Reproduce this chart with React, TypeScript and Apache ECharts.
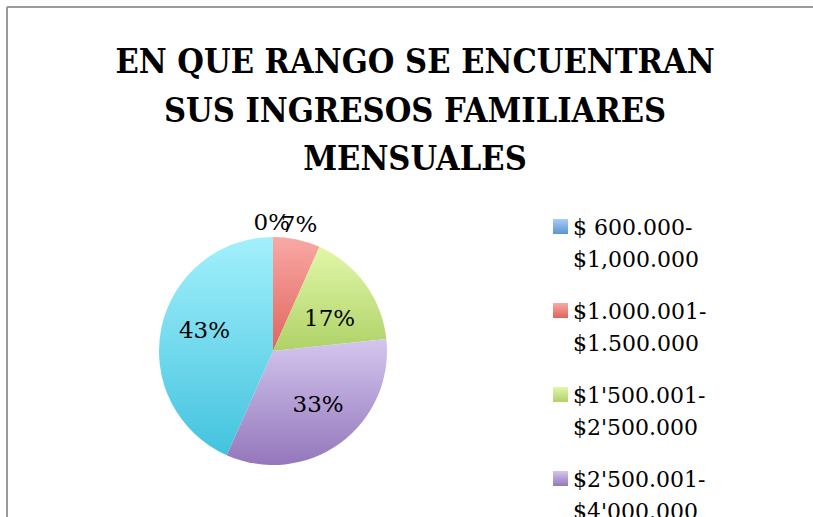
import React, { useEffect, useRef } from 'react';
import * as echarts from 'echarts';

const titleLines = ['EN QUE RANGO SE ENCUENTRAN', 'SUS INGRESOS FAMILIARES', 'MENSUALES'];
const categories = [
  "$ 600.000-\n$1,000.000",
  "$1.000.001-\n$1.500.000",
  "$1'500.001-\n$2'500.000",
  "$2'500.001-\n$4'000.000",
  "Más de\n$4'000.000",
];
const values = [0, 2, 5, 10, 13];
const topColors = ['#A9CDF6', '#F9A9A5', '#E2F7A8', '#D4C6EE', '#A3F0FC'];
const bottomColors = ['#5A93D4', '#E0645D', '#AFD268', '#9477BC', '#43C3DE'];

const grad = (i: number, a = 0, b = 1) =>
  new echarts.graphic.LinearGradient(0, 0, 0, 1, [
    { offset: a, color: topColors[i] },
    { offset: b, color: bottomColors[i] },
  ]);

const serif = 'DejaVu Serif';
const legendIcon = 'path://M0,0L0,0.01M0,8L15,8L15,23L0,23ZM0,64L0,64.01';

export default function App() {
  const ref = useRef<HTMLDivElement>(null);
  useEffect(() => {
    if (!ref.current) return;
    const chart = echarts.init(ref.current, undefined, { renderer: 'svg' });
    const pieData = categories.map((name, i) => ({
      name,
      value: values[i],
      itemStyle: { color: grad(i) },
    }));
    const labelData = categories.map((name, i) => ({
      name,
      value: values[i],
      label: { position: i < 2 ? 'outside' : 'inside' },
    }));
    chart.setOption({
      animation: false,
      backgroundColor: '#ffffff',
      title: {
        text: titleLines.join('\n'),
        left: 415,
        textAlign: 'center',
        top: 37,
        padding: 0,
        textStyle: {
          fontFamily: 'DejaVu Serif Condensed, DejaVu Serif',
          fontWeight: 'bold',
          fontSize: 34,
          lineHeight: 48.5,
          color: '#000000',
        },
      },
      legend: {
        orient: 'vertical',
        left: 553,
        top: 211,
        height: 2000,
        padding: 0,
        itemWidth: 15,
        itemHeight: 64,
        itemGap: 20,
        icon: legendIcon,
        itemStyle: { borderWidth: 0 },
        data: categories.map((name, i) => ({
          name,
          itemStyle: { color: grad(i, 8 / 64, 23 / 64), borderWidth: 0 },
        })),
        textStyle: {
          fontFamily: serif,
          fontSize: 22,
          lineHeight: 32,
          color: '#000000',
        },
      },
      graphic: [
        { type: 'line', shape: { x1: 7, y1: 7, x2: 813, y2: 7 }, style: { stroke: '#9a9a9a', lineWidth: 2 } },
        { type: 'line', shape: { x1: 7, y1: 7, x2: 7, y2: 517 }, style: { stroke: '#9a9a9a', lineWidth: 2 } },
      ],
      series: [
        {
          type: 'pie',
          center: [273, 351],
          radius: [0, 114],
          startAngle: 90,
          clockwise: true,
          data: pieData,
          label: { show: false },
          labelLine: { show: false },
          itemStyle: { borderWidth: 0, borderRadius: 0 },
          emphasis: { disabled: true },
        },
        {
          type: 'pie',
          center: [273, 351],
          radius: [0, 134],
          startAngle: 90,
          clockwise: true,
          silent: true,
          avoidLabelOverlap: false,
          percentPrecision: 0,
          data: labelData,
          itemStyle: { color: 'rgba(0,0,0,0)', borderWidth: 0 },
          label: {
            show: true,
            formatter: '{d}%',
            fontFamily: serif,
            fontSize: 23,
            color: '#000000',
          },
          labelLine: { show: false, length: 0, length2: 0 },
          labelLayout: (p: any) => {
            if (p.dataIndex === 0) return { dx: 22, dy: 5 };
            if (p.dataIndex === 1) return { dx: -25, dy: 4 };
            if (p.dataIndex === 2) return { dx: 0, dy: 8 };
            if (p.dataIndex === 3) return { dx: 4, dy: -4 };
            if (p.dataIndex === 4) return { dx: 0, dy: -6 };
            return {};
          },
          emphasis: { disabled: true },
        },
      ],
    });
    return () => chart.dispose();
  }, []);
  return (
    <div style={{ position: 'absolute', left: 0, top: 0, width: 813, height: 517, overflow: 'hidden' }}>
      <div ref={ref} style={{ width: 813, height: 517 }} />
    </div>
  );
}
